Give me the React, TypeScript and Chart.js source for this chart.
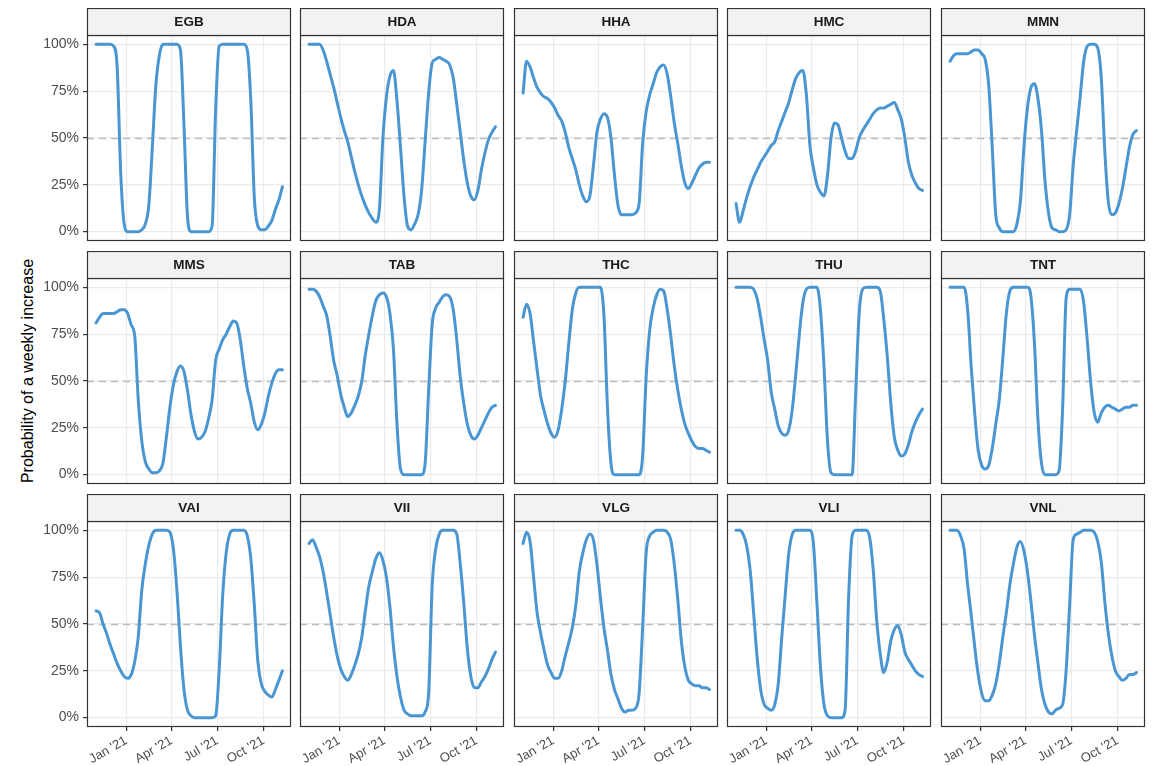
import React, { useEffect, useRef } from "react";
import { Chart, registerables } from "chart.js";

Chart.register(...registerables);

// ---------- data ----------
const WEEK_DATES = [
  "2020-11-02", "2020-11-09", "2020-11-16", "2020-11-23", "2020-11-30",
  "2020-12-07", "2020-12-14", "2020-12-21", "2020-12-28", "2021-01-04",
  "2021-01-11", "2021-01-18", "2021-01-25", "2021-02-01", "2021-02-08",
  "2021-02-15", "2021-02-22", "2021-03-01", "2021-03-08", "2021-03-15",
  "2021-03-22", "2021-03-29", "2021-04-05", "2021-04-12", "2021-04-19",
  "2021-04-26", "2021-05-03", "2021-05-10", "2021-05-17", "2021-05-24",
  "2021-05-31", "2021-06-07", "2021-06-14", "2021-06-21", "2021-06-28",
  "2021-07-05", "2021-07-12", "2021-07-19", "2021-07-26", "2021-08-02",
  "2021-08-09", "2021-08-16", "2021-08-23", "2021-08-30", "2021-09-06",
  "2021-09-13", "2021-09-20", "2021-09-27", "2021-10-04", "2021-10-11",
  "2021-10-18", "2021-10-25", "2021-11-01", "2021-11-08",
];

const TICK_DATES = ["2021-01-01", "2021-04-01", "2021-07-01", "2021-10-01"];
const TICK_LABELS = ["Jan '21", "Apr '21", "Jul '21", "Oct '21"];
const Y_TICKS = [0, 25, 50, 75, 100];
const REFERENCE_LEVEL = 50;
const X_RANGE = ["2020-10-15", "2021-11-25"];
const Y_RANGE = [-5, 105];
const Y_TITLE = "Probability of a weekly increase";

const PANEL_NAMES = [
  "EGB", "HDA", "HHA", "HMC", "MMN",
  "MMS", "TAB", "THC", "THU", "TNT",
  "VAI", "VII", "VLG", "VLI", "VNL",
];

const EGB = [100,100,100,100,100,99,88,32,4,0, 0,0,0,1,4,14,45,78,94,100, 100,100,100,100,97,57,8,0,0,0, 0,0,0,3,65,99,100,100,100,100, 100,100,100,97,70,18,3,1,1,3, 6,12,17,24];
const HDA = [100,100,100,100,97,91,84,77,69,61, 54,48,40,32,25,19,14,10,7,5, 12,50,72,83,86,70,45,19,3,1, 4,9,22,48,74,90,92,93,92,91, 89,82,68,53,38,26,19,17,22,33, 42,49,53,56];
const HHA = [74,91,88,82,77,74,72,71,69,66, 62,59,53,45,39,33,25,19,16,19, 35,53,60,63,61,50,30,14,9,9, 9,9,10,15,47,64,73,79,85,88, 89,84,72,58,47,35,26,23,26,30, 34,36,37,37];
const HMC = [15,5,11,18,24,29,33,37,40,43, 46,48,54,59,64,69,76,82,85,86, 73,46,34,25,21,19,30,50,58,57, 50,43,39,39,43,50,54,57,60,63, 65,66,66,67,68,69,65,60,50,37, 30,26,23,22];
const MMN = [91,94,95,95,95,95,96,97,97,95, 92,78,45,9,2,0,0,0,0,4, 16,45,66,77,79,71,54,27,10,2, 1,0,0,1,9,35,54,72,91,99, 100,100,98,82,43,16,9,10,15,23, 34,45,52,54];
const MMS = [81,84,86,86,86,86,87,88,88,86, 80,74,40,18,7,3,1,1,2,6, 20,36,48,55,58,55,45,32,23,19, 20,23,30,40,61,67,72,75,79,82, 81,72,58,46,38,28,24,27,33,42, 49,54,56,56];
const TAB = [99,99,98,95,90,85,74,61,53,43, 36,31,33,37,42,50,64,75,85,93, 96,97,95,86,67,27,3,0,0,0, 0,0,0,6,45,80,89,92,95,96, 95,88,72,52,38,27,21,19,21,25, 29,33,36,37];
const THC = [84,91,86,71,56,42,34,27,22,20, 24,35,50,70,88,97,100,100,100,100, 100,100,100,85,36,6,0,0,0,0, 0,0,0,0,10,52,77,89,96,99, 98,88,74,58,45,35,27,22,18,15, 14,14,13,12];
const THU = [100,100,100,100,100,99,94,84,72,61, 44,35,26,22,21,24,35,54,75,92, 99,100,100,100,88,58,18,1,0,0, 0,0,0,0,43,86,99,100,100,100, 100,98,83,63,38,20,13,10,11,16, 23,28,32,35];
const TNT = [100,100,100,100,100,88,58,33,13,5, 3,5,14,27,40,62,86,98,100,100, 100,100,100,95,70,29,6,0,0,0, 0,2,35,94,99,99,99,99,92,72, 49,33,28,33,36,37,36,35,34,35, 36,36,37,37];
const VAI = [57,56,50,45,39,34,29,25,22,21, 23,30,43,68,82,92,98,100,100,100, 100,99,90,68,38,15,4,1,0,0, 0,0,0,0,1,25,65,88,98,100, 100,100,100,97,85,60,30,18,14,12, 11,15,20,25];
const VII = [93,95,91,86,78,67,55,43,33,26, 22,20,23,28,34,43,57,70,78,85, 88,84,75,59,38,22,11,4,2,1, 1,1,1,3,13,70,90,98,100,100, 100,100,98,82,61,37,22,16,16,19, 22,26,31,35];
const VLG = [93,99,94,75,56,45,36,28,24,21, 21,25,33,40,48,60,78,88,95,98, 95,82,64,48,36,23,15,10,5,3, 4,4,5,13,48,88,97,99,100,100, 100,99,95,82,63,41,27,20,18,17, 17,16,16,15];
const VLI = [100,100,98,92,79,56,32,15,7,5, 4,7,18,43,66,88,98,100,100,100, 100,100,93,61,27,7,1,0,0,0, 0,4,64,97,100,100,100,100,96,79, 52,34,24,30,41,47,49,44,35,31, 28,25,23,22];
const VNL = [100,100,100,97,90,71,55,38,23,13, 9,9,12,18,29,43,56,71,82,91, 94,89,78,62,44,29,15,7,3,2, 4,5,7,25,60,95,98,99,100,100, 100,99,94,83,62,45,33,25,22,20, 21,23,23,24];

const SERIES: Record<string, number[]> = {
  EGB, HDA, HHA, HMC, MMN, MMS, TAB, THC, THU, TNT, VAI, VII, VLG, VLI, VNL,
};

// ---------- layout / style ----------
const COL_LEFT = [87, 300, 514, 727, 941];
const ROW_TOP = [8, 251, 494];
const PANEL_W = 204;
const STRIP_H = 27;
const PLOT_H = 206;
const AXIS_W = 60;
const AXIS_H = 45;
const RIGHT_PAD = 10;
const CANVAS_W = AXIS_W + PANEL_W + RIGHT_PAD;
const CANVAS_H = STRIP_H + PLOT_H + AXIS_H;

const FONT = '"Liberation Sans", Arial, Helvetica, sans-serif';
const LINE_COLOR = "#4A96D2";
const GRID_COLOR = "#EBEBEB";
const FRAME_COLOR = "#333333";

const toDay = (d: string) =>
  (Date.parse(d + "T00:00:00Z") - Date.parse("2021-01-01T00:00:00Z")) / 86400000;

function decoPlugin(label: string) {
  return {
    id: "panelDeco",
    beforeDatasetsDraw(chart: any) {
      const { ctx, chartArea: a } = chart;
      const yy = Math.round(chart.scales.y.getPixelForValue(REFERENCE_LEVEL)) + 0.5;
      ctx.save();
      ctx.strokeStyle = "#BDBDBD";
      ctx.lineWidth = 1.4;
      ctx.setLineDash([7, 5]);
      ctx.beginPath();
      ctx.moveTo(a.left, yy);
      ctx.lineTo(a.right, yy);
      ctx.stroke();
      ctx.restore();
    },
    afterDraw(chart: any) {
      const { ctx, chartArea: a } = chart;
      ctx.save();
      ctx.lineWidth = 1.2;
      ctx.strokeStyle = FRAME_COLOR;
      ctx.strokeRect(a.left + 0.5, a.top + 0.5, a.right - a.left - 1, a.bottom - a.top - 1);
      ctx.fillStyle = "#F2F2F2";
      ctx.fillRect(a.left, a.top - STRIP_H, a.right - a.left, STRIP_H);
      ctx.strokeRect(a.left + 0.5, a.top - STRIP_H + 0.5, a.right - a.left - 1, STRIP_H);
      ctx.fillStyle = "#1A1A1A";
      ctx.font = `bold 13.5px ${FONT}`;
      ctx.textAlign = "center";
      ctx.textBaseline = "middle";
      ctx.fillText(label, (a.left + a.right) / 2, a.top - STRIP_H / 2 + 1);
      ctx.restore();
    },
  };
}

function Panel({ name, col, row }: { name: string; col: number; row: number }) {
  const ref = useRef<HTMLCanvasElement>(null);
  useEffect(() => {
    const isLeft = col === 0;
    const isBottom = row === 2;
    const values = SERIES[name];
    const data = WEEK_DATES.map((d, i) => ({ x: toDay(d), y: values[i] }));
    const tickDays = TICK_DATES.map(toDay);
    const chart = new Chart(ref.current as HTMLCanvasElement, {
      type: "line",
      data: {
        datasets: [
          {
            data,
            borderColor: LINE_COLOR,
            borderWidth: 3,
            pointRadius: 0,
            fill: false,
            cubicInterpolationMode: "monotone",
            borderCapStyle: "round",
            borderJoinStyle: "round",
          } as any,
        ],
      },
      options: {
        animation: false,
        responsive: false,
        maintainAspectRatio: false,
        devicePixelRatio: 1,
        events: [],
        layout: { padding: { top: STRIP_H, left: 0, right: RIGHT_PAD, bottom: 0 } },
        plugins: {
          legend: { display: false },
          tooltip: { enabled: false },
          title: { display: false },
        },
        scales: {
          x: {
            type: "linear",
            min: toDay(X_RANGE[0]),
            max: toDay(X_RANGE[1]),
            afterBuildTicks: (s: any) => {
              s.ticks = tickDays.map((v) => ({ value: v }));
            },
            afterFit: (s: any) => {
              s.height = AXIS_H;
            },
            ticks: {
              display: isBottom,
              autoSkip: false,
              minRotation: 30,
              maxRotation: 30,
              padding: 2,
              color: "#4D4D4D",
              font: { family: FONT, size: 13 },
              callback: (_v: any, i: number) => TICK_LABELS[i],
            },
            grid: {
              color: GRID_COLOR,
              lineWidth: 1.2,
              drawTicks: isBottom,
              tickLength: 4,
              tickColor: FRAME_COLOR,
              tickWidth: 1.2,
            },
            border: { display: false },
          },
          y: {
            type: "linear",
            min: Y_RANGE[0],
            max: Y_RANGE[1],
            afterBuildTicks: (s: any) => {
              s.ticks = Y_TICKS.map((v) => ({ value: v }));
            },
            afterFit: (s: any) => {
              s.width = AXIS_W;
            },
            ticks: {
              display: isLeft,
              padding: 4,
              color: "#4D4D4D",
              font: { family: FONT, size: 14 },
              callback: (v: any) => `${v}%`,
            },
            grid: {
              color: GRID_COLOR,
              lineWidth: 1.2,
              drawTicks: isLeft,
              tickLength: 4,
              tickColor: FRAME_COLOR,
              tickWidth: 1.2,
            },
            border: { display: false },
          },
        },
      } as any,
      plugins: [decoPlugin(name)],
    });
    return () => chart.destroy();
  }, [name, col, row]);

  return (
    <canvas
      ref={ref}
      width={CANVAS_W}
      height={CANVAS_H}
      style={{
        position: "absolute",
        left: COL_LEFT[col] - AXIS_W,
        top: ROW_TOP[row],
        width: CANVAS_W,
        height: CANVAS_H,
      }}
    />
  );
}

export default function App() {
  return (
    <div
      style={{
        position: "absolute",
        left: 0,
        top: 0,
        width: 1153,
        height: 766,
        overflow: "hidden",
        background: "#FFFFFF",
      }}
    >
      <div
        style={{
          position: "absolute",
          left: 28,
          top: 371,
          transform: "translate(-50%, -50%) rotate(-90deg)",
          whiteSpace: "nowrap",
          fontFamily: FONT,
          fontSize: 16,
          color: "#000000",
        }}
      >
        {Y_TITLE}
      </div>
      {PANEL_NAMES.map((name, i) => (
        <Panel key={name} name={name} col={i % 5} row={Math.floor(i / 5)} />
      ))}
    </div>
  );
}
